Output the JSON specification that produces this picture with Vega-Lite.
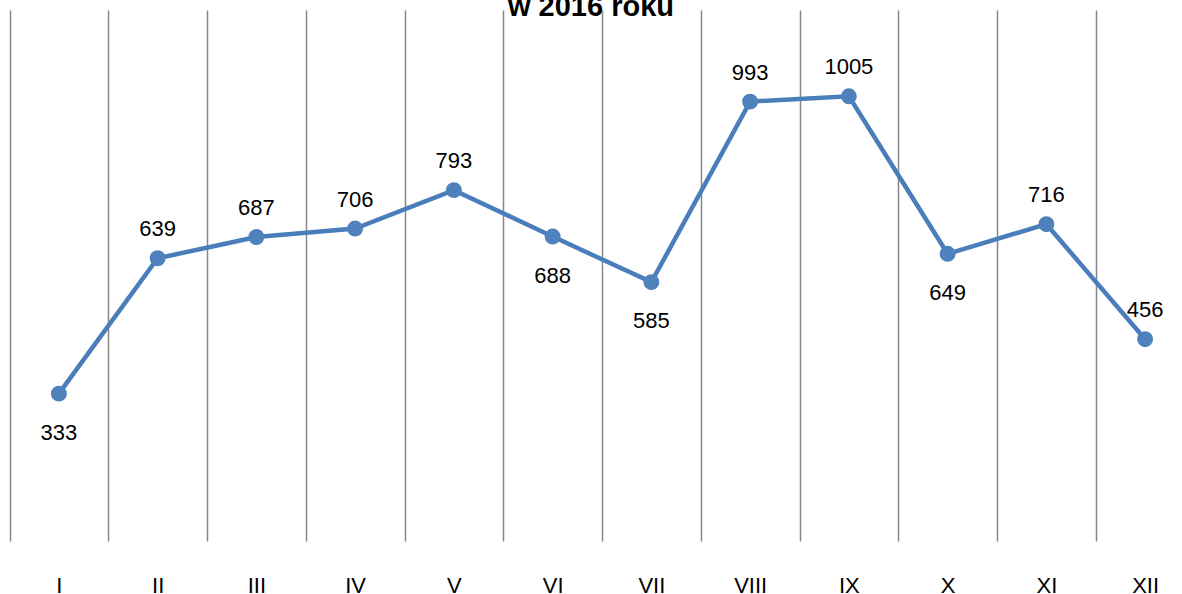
{
  "$schema": "https://vega.github.io/schema/vega-lite/v6.json",
  "width": 1182,
  "height": 531,
  "autosize": {"type": "none"},
  "padding": {"left": 0, "right": 0, "top": 10, "bottom": 53},
  "background": "white",
  "title": {
    "text": "w 2016 roku",
    "font": "Liberation Sans",
    "fontSize": 29,
    "fontWeight": "bold",
    "color": "black",
    "anchor": "middle",
    "frame": "group",
    "baseline": "alphabetic",
    "offset": -35
  },
  "data": {
    "values": [
      {"miesiac": "I", "liczba": 333},
      {"miesiac": "II", "liczba": 639},
      {"miesiac": "III", "liczba": 687},
      {"miesiac": "IV", "liczba": 706},
      {"miesiac": "V", "liczba": 793},
      {"miesiac": "VI", "liczba": 688},
      {"miesiac": "VII", "liczba": 585},
      {"miesiac": "VIII", "liczba": 993},
      {"miesiac": "IX", "liczba": 1005},
      {"miesiac": "X", "liczba": 649},
      {"miesiac": "XI", "liczba": 716},
      {"miesiac": "XII", "liczba": 456}
    ]
  },
  "encoding": {
    "x": {
      "field": "miesiac",
      "type": "nominal",
      "sort": null,
      "scale": {"range": [9.5, 1194.5], "paddingInner": 0, "paddingOuter": 0},
      "axis": {
        "title": null,
        "domain": false,
        "ticks": false,
        "tickSize": 0,
        "grid": true,
        "gridColor": "#878787",
        "gridWidth": 1.5,
        "tickBand": "extent",
        "labelAngle": 0,
        "labelFont": "Liberation Sans",
        "labelFontSize": 22,
        "labelColor": "black",
        "labelBaseline": "middle",
        "labelPadding": 44
      }
    },
    "y": {
      "field": "liczba",
      "type": "quantitative",
      "scale": {"domain": [0, 1200], "nice": false, "zero": true},
      "axis": null
    }
  },
  "layer": [
    {
      "mark": {"type": "line", "color": "#4a7ebb", "strokeWidth": 4.5}
    },
    {
      "mark": {"type": "point", "filled": true, "size": 254, "color": "#4f81bd", "opacity": 1}
    },
    {
      "transform": [{"filter": "indexof(['I','VI','VII','X'], datum.miesiac) < 0"}],
      "mark": {"type": "text", "font": "Liberation Sans", "fontSize": 22, "color": "black", "baseline": "middle", "dy": -29},
      "encoding": {"text": {"field": "liczba", "type": "quantitative", "format": "d"}}
    },
    {
      "transform": [{"filter": "indexof(['I','VI','VII','X'], datum.miesiac) >= 0"}],
      "mark": {"type": "text", "font": "Liberation Sans", "fontSize": 22, "color": "black", "baseline": "middle", "dy": 39},
      "encoding": {"text": {"field": "liczba", "type": "quantitative", "format": "d"}}
    }
  ],
  "config": {"view": {"stroke": null}}
}
